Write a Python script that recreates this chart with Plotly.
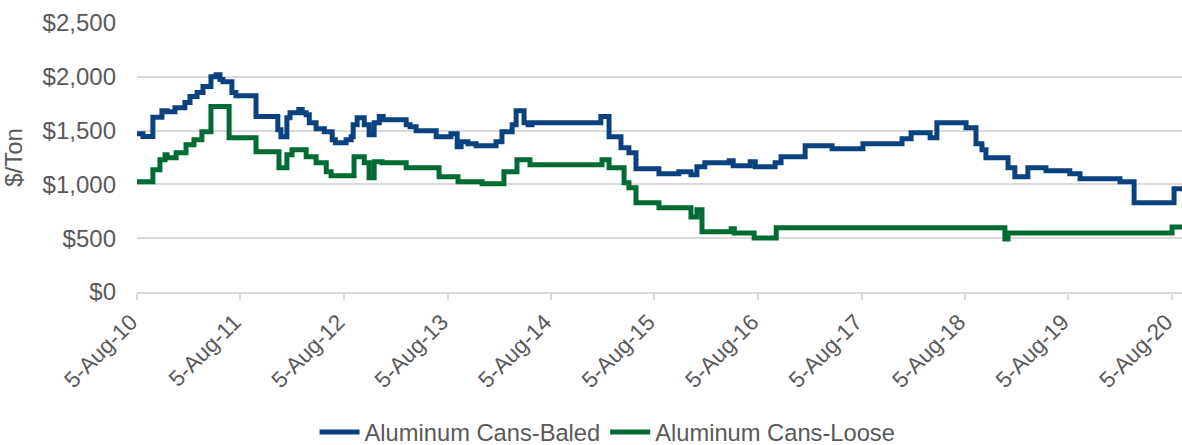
import plotly.graph_objects as go

# Aluminum cans-baled, $/ton (step changes)
baled_dates = [
    "2010-08-05", "2010-08-26", "2010-09-30", "2010-11-01", "2010-11-19", "2010-12-17",
    "2011-01-21", "2011-02-08", "2011-03-05", "2011-03-26", "2011-04-23", "2011-05-11",
    "2011-05-25", "2011-06-04", "2011-07-06", "2011-07-20", "2011-09-29", "2011-12-15",
    "2011-12-26", "2012-01-16", "2012-01-27", "2012-02-27", "2012-03-10", "2012-03-24",
    "2012-04-04", "2012-04-28", "2012-05-27", "2012-06-24", "2012-07-05", "2012-08-12",
    "2012-08-30", "2012-09-06", "2012-09-20", "2012-10-15", "2012-11-01", "2012-11-19",
    "2012-12-07", "2012-12-21", "2013-03-12", "2013-03-26", "2013-04-16", "2013-06-26",
    "2013-08-17", "2013-09-08", "2013-09-22", "2013-10-16", "2013-11-14", "2014-01-23",
    "2014-02-13", "2014-03-21", "2014-04-04", "2014-05-02", "2014-05-16", "2014-05-30",
    "2015-01-28", "2015-02-26", "2015-04-09", "2015-05-07", "2015-06-01", "2015-08-21",
    "2015-10-30", "2015-12-12", "2016-01-02", "2016-01-30", "2016-04-25", "2016-05-09",
    "2016-07-08", "2016-07-26", "2016-10-04", "2016-10-25", "2017-01-18", "2017-04-23",
    "2017-08-10", "2017-12-26", "2018-01-27", "2018-04-04", "2018-04-28", "2018-08-09",
    "2018-09-13", "2018-10-04", "2018-10-18", "2019-01-04", "2019-01-28", "2019-03-15",
    "2019-05-18", "2019-08-10", "2019-09-15", "2020-02-03", "2020-03-24", "2020-08-12",
    "2020-09-09",
]
baled_values = [
    1470, 1445, 1625, 1685, 1676, 1713,
    1760, 1816, 1853, 1909, 2000, 2020,
    1974, 1955, 1853, 1825, 1630, 1508,
    1443, 1620, 1667, 1695, 1667, 1648,
    1574, 1518, 1490, 1415, 1387, 1415,
    1443, 1555, 1620, 1555, 1462, 1574,
    1630, 1600, 1555, 1536, 1499, 1443,
    1471, 1350, 1397, 1378, 1359, 1397,
    1490, 1555, 1685, 1574, 1555, 1574,
    1630, 1443, 1341, 1294, 1145, 1099,
    1117, 1089, 1164, 1201, 1220, 1173,
    1210, 1164, 1201, 1257, 1359, 1331,
    1378, 1425, 1480, 1434, 1574, 1527,
    1378, 1322, 1248, 1155, 1071, 1155,
    1127, 1099, 1052, 1024, 829, 959,
    959,
]

# Aluminum cans-loose, $/ton (step changes)
loose_dates = [
    "2010-08-05", "2010-09-30", "2010-10-25", "2010-11-12", "2010-11-19", "2010-12-21",
    "2011-01-25", "2011-02-22", "2011-03-22", "2011-04-23", "2011-06-26", "2011-09-29",
    "2011-12-19", "2012-01-16", "2012-02-03", "2012-03-24", "2012-04-28", "2012-06-03",
    "2012-06-20", "2012-09-09", "2012-10-15", "2012-11-01", "2012-11-19", "2012-12-17",
    "2013-03-12", "2013-07-06", "2013-09-11", "2013-12-05", "2014-02-20", "2014-04-07",
    "2014-05-23", "2015-02-01", "2015-02-26", "2015-04-20", "2015-05-07", "2015-06-01",
    "2015-08-21", "2015-12-12", "2016-01-02", "2016-01-20", "2016-05-02", "2016-05-13",
    "2016-07-22", "2016-10-08", "2018-12-24", "2019-01-04", "2020-08-05", "2020-09-09",
]
loose_values = [
    1024, 1136, 1229, 1276, 1248, 1294,
    1369, 1415, 1490, 1723, 1434, 1304,
    1155, 1276, 1322, 1257, 1201, 1117,
    1080, 1257, 1201, 1061, 1210, 1201,
    1155, 1071, 1024, 1006, 1117, 1229,
    1183, 1229, 1155, 1015, 968, 829,
    782, 698, 764, 559, 587, 549,
    503, 596, 493, 549, 605, 605,
]

tick_dates = ["2010-08-05", "2011-08-05", "2012-08-05", "2013-08-05", "2014-08-05",
              "2015-08-05", "2016-08-05", "2017-08-05", "2018-08-05", "2019-08-05",
              "2020-08-05"]
tick_labels = ["5-Aug-10", "5-Aug-11", "5-Aug-12", "5-Aug-13", "5-Aug-14", "5-Aug-15",
               "5-Aug-16", "5-Aug-17", "5-Aug-18", "5-Aug-19", "5-Aug-20"]

y_ticks = [0, 500, 1000, 1500, 2000, 2500]
y_labels = ["$0", "$500", "$1,000", "$1,500", "$2,000", "$2,500"]

text_color = "#595959"
grid_color = "#d9d9d9"

fig = go.Figure()
fig.add_trace(go.Scatter(x=baled_dates, y=baled_values, name="Aluminum Cans-Baled",
                         mode="lines", line=dict(color="#0a4280", width=5, shape="hv")))
fig.add_trace(go.Scatter(x=loose_dates, y=loose_values, name="Aluminum Cans-Loose",
                         mode="lines", line=dict(color="#006b33", width=5, shape="hv")))

fig.update_layout(
    width=1182, height=445,
    margin=dict(l=137, r=0, t=23, b=153, autoexpand=False),
    paper_bgcolor="white", plot_bgcolor="white",
    font=dict(family="Liberation Sans, Arial, sans-serif", size=22, color=text_color),
    showlegend=True,
    legend=dict(orientation="h", xref="container", x=0.514, xanchor="center",
                yref="container", y=0.029, yanchor="middle",
                font=dict(size=23.7, color=text_color), itemwidth=40,
                tracegroupgap=0),
)
fig.update_xaxes(
    type="date", range=["2010-08-05", "2020-09-09"],
    tickvals=tick_dates, ticktext=tick_labels, tickangle=-45,
    showgrid=False, showline=True, linecolor=grid_color, linewidth=2,
    ticks="outside", ticklen=6, tickcolor=grid_color, tickwidth=2,
    tickfont=dict(size=22.5, color=text_color), zeroline=False, automargin=False,
    ticklabeloverflow="allow", ticklabelshift=-6,
)
fig.update_yaxes(
    range=[0, 2500], tickvals=y_ticks, ticktext=y_labels,
    showgrid=True, gridcolor=grid_color, gridwidth=2, zeroline=False,
    showline=False, ticks="", ticklabelstandoff=20, automargin=False,
    tickfont=dict(size=24, color=text_color),
    title=dict(text="$/Ton", font=dict(size=24, color=text_color), standoff=14),
)

# drop the browser's default page margin so the figure sits at the window's corner
fig.write_html("out.html", config={"displayModeBar": False},
               post_script="document.body.style.margin='0';"
                           "document.body.style.overflow='hidden';")
